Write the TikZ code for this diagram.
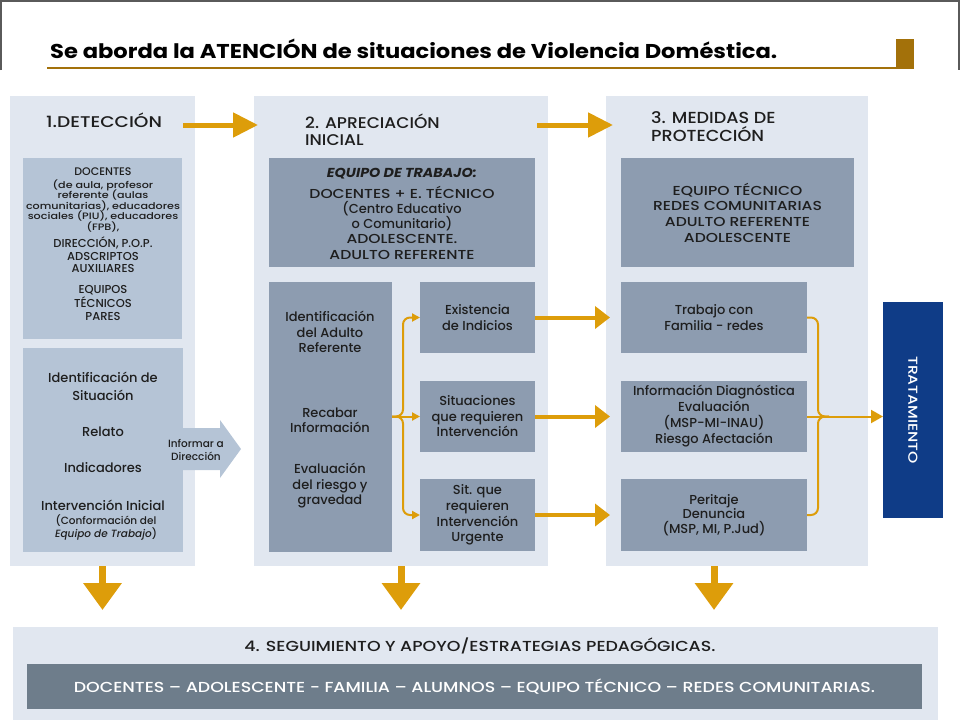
\documentclass[tikz,border=0pt]{standalone}
\usepackage{fontspec}
\setmainfont{Poppins Medium}[BoldFont={Poppins Bold}, ItalicFont={Poppins Medium Italic}, BoldItalicFont={Poppins Bold Italic}]
\newfontfamily\capsf{Poppins Medium}[FakeStretch=1.2]
\newfontfamily\capsm{Poppins Medium}[FakeStretch=1.1, BoldFont={Poppins Bold}, BoldItalicFont={Poppins Bold Italic}]
\newfontfamily\ttlf{Poppins Bold}[FakeStretch=1.13]
\setlength{\lineskiplimit}{-20pt}
\usetikzlibrary{arrows.meta}
\definecolor{panelc}{RGB}{225,231,240}
\definecolor{lightb}{RGB}{181,196,214}
\definecolor{darkb}{RGB}{141,156,176}
\definecolor{slate}{RGB}{110,125,139}
\definecolor{navy}{RGB}{15,60,135}
\definecolor{goldd}{RGB}{163,113,10}
\definecolor{goldl}{RGB}{221,157,10}
\definecolor{txt}{RGB}{30,30,30}
\definecolor{framec}{RGB}{90,90,90}
\begin{document}
\begin{tikzpicture}[x=1pt, y=-1pt,
    box/.style 2 args={anchor=north west, minimum width=#1, minimum height=#2, inner sep=0pt, outer sep=0pt, align=center, text=txt},
    tx/.style={align=center, inner sep=0pt, text=txt},
    fs/.style 2 args={font=\fontsize{#1}{#2}\selectfont},
    cs/.style 2 args={font=\capsf\fontsize{#1}{#2}\selectfont},
    ms/.style 2 args={font=\capsm\fontsize{#1}{#2}\selectfont},
    harrow/.style={goldl, line width=5pt, -{Triangle[length=25pt, width=24pt]}},
    sarrow/.style={goldl, line width=4pt, -{Triangle[length=15pt, width=22pt]}},
    darrow/.style={goldl, line width=7pt, -{Triangle[length=27pt, width=37pt]}},
    gline/.style={goldl, line width=2pt, rounded corners=7pt}]
\useasboundingbox (0,0) rectangle (960,720);
% header
\draw[framec, line width=1.5pt] (0.8,70) -- (0.8,0.8) -- (959.2,0.8) -- (959.2,70);
\node[anchor=base west, inner sep=0pt, font=\ttlf\fontsize{20}{24}\selectfont] (ttl) at (50,58) {Se aborda la ATENCIÓN de situaciones de Violencia Doméstica.};
\draw[goldd, line width=2.5pt] (47,68) -- (914,68);
\fill[goldd] (896,39) rectangle (914,69);

% panels
\node[box={185}{470}, fill=panelc] (p1) at (10,96) {};
\node[box={294}{470}, fill=panelc] (p2) at (254,96) {};
\node[box={262}{470}, fill=panelc] (p3) at (606,96) {};
\node[box={925}{93}, fill=panelc] (seg) at (13,627) {};

% 1. deteccion
\node[tx, cs={15.5}{18}] (t1) at (104,120) {1.DETECCIÓN};
\node[box={159}{181}, fill=lightb] (doc) at (23,158) {};
\node[tx, fs={11}{13}] (a1) at (103,172) {DOCENTES};
\node[tx, cs={9.3}{10.5}] (a2) at (103,206) {(de aula, profesor\\referente (aulas\\comunitarias), educadores\\sociales (PIU), educadores\\(FPB),};
\node[tx, fs={11.5}{12.5}] (a3) at (103,255) {DIRECCIÓN, P.O.P.\\ADSCRIPTOS\\AUXILIARES};
\node[tx, fs={11.5}{13.5}] (a4) at (103,303) {EQUIPOS\\TÉCNICOS\\PARES};
\node[box={160}{204}, fill=lightb] (sit) at (23,348) {};
\fill[lightb] (183,428) -- (220,428) -- (220,420) -- (241,449) -- (220,478) -- (220,470) -- (183,470) -- cycle;
\node[tx, fs={13}{18}] (b1) at (103,386) {Identificación de\\Situación};
\node[tx, fs={13}{16}] (b2) at (103,432) {Relato};
\node[tx, fs={13}{16}] (b3) at (103,468) {Indicadores};
\node[tx, fs={13}{16}] (b4) at (103,505) {Intervención Inicial};
\node[tx, fs={10.5}{13}] (b5) at (106,527) {(Conformación del\\\textit{Equipo de Trabajo})};
\node[tx, fs={10.5}{13}] (inf) at (196,450) {Informar a\\Dirección};

% 2. apreciacion
\node[tx, ms={15.5}{17.5}, anchor=west, align=left] (t2) at (305,130) {2. APRECIACIÓN\\INICIAL};
\node[box={266}{109}, fill=darkb] (eq) at (269,158) {};
\node[tx, font=\capsm\fontsize{13}{16}\selectfont\bfseries\itshape] (e1) at (402,174) {EQUIPO DE TRABAJO:};
\node[tx, cs={13}{16}] (e2) at (402,192) {DOCENTES + E. TÉCNICO};
\node[tx, fs={13}{15.5}] (e3) at (402,216) {(Centro Educativo\\o Comunitario)};
\node[tx, cs={13}{16.5}] (e4) at (402,247) {ADOLESCENTE.\\ADULTO REFERENTE};
\node[box={123}{270}, fill=darkb] (ident) at (269,282) {};
\node[tx, fs={13}{15.5}] (i1) at (330,332) {Identificación\\del Adulto\\Referente};
\node[tx, fs={13}{15.5}] (i2) at (330,420) {Recabar\\Información};
\node[tx, fs={13}{15.5}] (i3) at (330,486) {Evaluación\\del riesgo y\\gravedad};
\node[box={115}{71}, fill=darkb, fs={13}{16}] (exis) at (420,282) {Existencia\\de Indicios};
\node[box={115}{71}, fill=darkb, fs={13}{15.5}] (sitq) at (420,381) {Situaciones\\que requieren\\Intervención};
\node[box={115}{72}, fill=darkb, fs={13}{15.7}] (urg) at (420,479) {Sit. que\\requieren\\Intervención\\Urgente};

% 3. medidas
\node[tx, ms={16}{18}, anchor=west, align=left] (t3) at (651,127) {3. MEDIDAS DE\\PROTECCIÓN};
\node[box={233}{109}, fill=darkb, cs={13}{15.7}] (eqt) at (621,158) {EQUIPO TÉCNICO\\REDES COMUNITARIAS\\ADULTO REFERENTE\\ADOLESCENTE};
\node[box={186}{71}, fill=darkb, fs={13}{15.5}] (trab) at (621,282) {Trabajo con\\Familia - redes};
\node[box={186}{71}, fill=darkb, fs={13}{16}] (info) at (621,381) {Información Diagnóstica\\Evaluación\\(MSP-MI-INAU)\\Riesgo Afectación};
\node[box={186}{72}, fill=darkb, fs={13}{14.5}] (per) at (621,479) {Peritaje\\Denuncia\\(MSP, MI, P.Jud)};
\node[box={60}{216}, fill=navy] (trat) at (883,302) {};
\node[rotate=-90, inner sep=0pt, text=white, cs={13}{16}] (tratl) at (trat.center) {TRATAMIENTO};

% 4. seguimiento
\node[tx, cs={14.5}{18}] (t4) at (480,646) {4. SEGUIMIENTO Y APOYO/ESTRATEGIAS PEDAGÓGICAS.};
\node[box={895}{45}, fill=slate, text=white, cs={14.5}{18}] (rol) at (27,664) {DOCENTES – ADOLESCENTE - FAMILIA – ALUMNOS – EQUIPO TÉCNICO – REDES COMUNITARIAS.};

% flechas
\draw[harrow, shorten <=-12pt, shorten >=-4pt] (p1.east |- 0,125) -- (p2.west |- 0,125);
\draw[harrow, shorten <=-11pt, shorten >=-7pt] (p2.east |- 0,125) -- (p3.west |- 0,125);
\draw[gline, -{Triangle[length=8pt, width=8pt]}] (ident.east |- sitq.west) -- ++(11,0) |- (exis.west);
\draw[gline, -{Triangle[length=8pt, width=8pt]}] (ident.east |- sitq.west) -- ++(11,0) |- (urg.west);
\draw[gline, -{Triangle[length=8pt, width=8pt]}] (ident.east |- sitq.west) -- (sitq.west);
\draw[sarrow, shorten >=11pt] (exis.east) -- (trab.west);
\draw[sarrow, shorten >=11pt] (sitq.east) -- (info.west);
\draw[sarrow, shorten >=11pt] (urg.east) -- (per.west);
\draw[gline] (trab.east) -- ++(11,0) |- ([xshift=22pt]info.east);
\draw[gline] (per.east) -- ++(11,0) |- ([xshift=22pt]info.east);
\draw[gline, -{Triangle[length=12pt, width=13pt]}] (info.east) -- (trat.west |- info.east);
\draw[darrow, shorten >=17pt] (p1.south) -- (p1.south |- seg.north);
\draw[darrow, shorten >=17pt] (p2.south) -- (p2.south |- seg.north);
\draw[darrow, shorten >=17pt] (trab.south |- p3.south) -- (trab.south |- seg.north);
\end{tikzpicture}
\end{document}
